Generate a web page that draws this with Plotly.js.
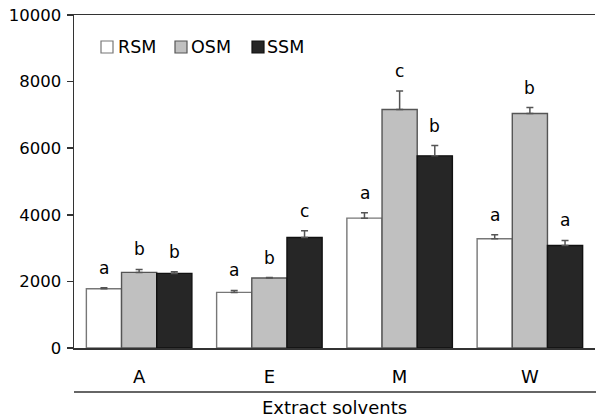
<!DOCTYPE html>
<html>
<head>
<meta charset="utf-8">
<script src="https://cdn.plot.ly/plotly-3.0.1.min.js"></script>
<style>html,body{margin:0;padding:0;background:#fff}#chart{width:596px;height:419px}</style>
</head>
<body>
<div id="chart"></div>
<script>
const categories = ['A', 'E', 'M', 'W'];
const seriesNames = ['RSM', 'OSM', 'SSM'];
const rsmValues = [1780, 1670, 3900, 3280];
const osmValues = [2270, 2100, 7160, 7040];
const ssmValues = [2240, 3320, 5770, 3080];
const rsmErrors = [30, 60, 160, 120];
const osmErrors = [90, 15, 560, 180];
const ssmErrors = [50, 200, 310, 150];
const rsmLetters = ['a', 'a', 'a', 'a'];
const osmLetters = ['b', 'b', 'c', 'b'];
const ssmLetters = ['b', 'c', 'b', 'a'];
const yTicks = [0, 2000, 4000, 6000, 8000, 10000];

const FONT = 'DejaVu Sans, Liberation Sans, Arial, sans-serif';
const values = [rsmValues, osmValues, ssmValues];
const errors = [rsmErrors, osmErrors, ssmErrors];
const letters = [rsmLetters, osmLetters, ssmLetters];
const fills = ['#ffffff', '#c0c0c0', '#262626'];
const lines = ['#777777', '#555555', '#111111'];

// plot area geometry (pixels)
const W = 596, H = 419, ML = 74, MR = 1, MT = 15, MB = 71;
const PW = W - ML - MR, PH = H - MT - MB;
const px = v => (v - ML) / PW;
const py = v => (H - MB - v) / PH;

const traces = seriesNames.map((name, i) => ({
  type: 'bar',
  name: name,
  x: categories,
  y: values[i],
  showlegend: false,
  marker: {color: fills[i], line: {color: lines[i], width: 1.4}},
  error_y: {type: 'data', symmetric: false, array: errors[i],
            arrayminus: errors[i].map(() => 0), color: '#555555', thickness: 1.5, width: 3.5}
}));

const barShift = [-35, 0, 35];
const annotations = [];
seriesNames.forEach((name, i) => {
  categories.forEach((c, j) => {
    annotations.push({
      x: c, y: values[i][j] + errors[i][j], xref: 'x', yref: 'y',
      text: letters[i][j], showarrow: false, xshift: barShift[i], yshift: 20,
      yanchor: 'middle', font: {family: FONT, size: 17, color: '#000'}
    });
  });
});
annotations.push({
  x: 0.5, y: py(419), xref: 'paper', yref: 'paper', text: 'Extract solvents',
  showarrow: false, yanchor: 'bottom', xanchor: 'center', borderpad: 0,
  font: {family: FONT, size: 18, color: '#000'}
});

// legend drawn as key squares + labels
const legendSquareX = [101, 175, 252];
const legendTextX = [116, 189, 265];
const shapes = [{type: 'line', xref: 'paper', yref: 'paper', x0: 0, x1: 1.01,
                 y0: py(392), y1: py(392), line: {color: '#333', width: 1.5}}];
seriesNames.forEach((name, i) => {
  shapes.push({type: 'rect', xref: 'paper', yref: 'paper',
               x0: px(legendSquareX[i]), x1: px(legendSquareX[i] + 12),
               y0: py(53), y1: py(41),
               fillcolor: fills[i], line: {color: lines[i], width: 1.2}});
  annotations.push({x: px(legendTextX[i]), y: py(47), xref: 'paper', yref: 'paper',
                    text: name, showarrow: false, xanchor: 'left', yanchor: 'middle',
                    font: {family: FONT, size: 17.5, color: '#000'}});
});

const layout = {
  width: W, height: H,
  margin: {l: ML, r: MR, t: MT, b: MB},
  paper_bgcolor: '#fff', plot_bgcolor: '#fff',
  barmode: 'group', bargap: 0.19, bargroupgap: 0,
  showlegend: false,
  xaxis: {showline: true, linecolor: '#333', linewidth: 1.5, mirror: true,
          ticks: '', showgrid: false, zeroline: false,
          tickfont: {family: FONT, size: 18, color: '#000'}, ticklabelstandoff: 12},
  yaxis: {range: [0, 10000], tickvals: yTicks, tickformat: 'd', showline: true,
          linecolor: '#333', linewidth: 1.5, ticks: 'outside', ticklen: 6, tickcolor: '#333',
          tickwidth: 1.5, showgrid: false, zeroline: false, ticklabelstandoff: 2,
          tickfont: {family: FONT, size: 16.5, color: '#000'}},
  annotations: annotations,
  shapes: shapes
};

Plotly.newPlot('chart', traces, layout, {displayModeBar: false, staticPlot: true});
</script>
</body>
</html>
